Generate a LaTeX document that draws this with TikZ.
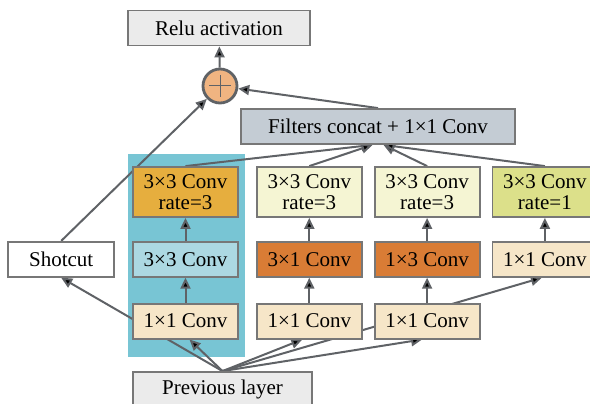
\documentclass[tikz,border=0pt]{standalone}
\usepackage{fontspec}
\setmainfont{Liberation Serif}
\usetikzlibrary{positioning,arrows.meta}
\pgfdeclarelayer{back}
\pgfsetlayers{back,main}
\definecolor{linegray}{HTML}{5F6266}
\definecolor{bordergray}{HTML}{777777}
\definecolor{lightgray}{HTML}{EBEBEB}
\definecolor{concatgray}{HTML}{C4CCD4}
\definecolor{tealbg}{HTML}{78C5D4}
\definecolor{gold}{HTML}{E6AE3E}
\definecolor{paleblue}{HTML}{ACD8E2}
\definecolor{peach}{HTML}{F6E6C8}
\definecolor{cream}{HTML}{F5F5D3}
\definecolor{lime}{HTML}{DCE08A}
\definecolor{rust}{HTML}{D97C35}
\definecolor{sumfill}{HTML}{F0B481}

\begin{document}
\begin{tikzpicture}[
        x=1pt, y=-1pt,
        >={Triangle[length=11pt,width=10pt]},
        node distance=23pt and 11pt,
        font=\fontsize{21}{21}\selectfont,
        box/.style={draw=bordergray, line width=1.8pt, minimum width=105pt,
                    minimum height=35pt, inner sep=0pt},
        tall/.style={box, minimum height=50pt, align=center},
        sum/.style={circle, draw=linegray, line width=2.8pt, fill=sumfill,
                    minimum size=34pt, inner sep=0pt,
                    path picture={\draw[linegray, line width=1pt]
                        (path picture bounding box.center) +(-11pt,0) -- +(11pt,0)
                        (path picture bounding box.center) +(0,-11pt) -- +(0,11pt);}},
        conn/.style={->, draw=linegray, line width=2pt}
        ]
        \useasboundingbox (0,0) rectangle (590,404);

        \begin{pgfonlayer}{back}
            \fill[tealbg] (128,154) rectangle (245,357);
        \end{pgfonlayer}

        \node[box, fill=lightgray, minimum width=182pt] (relu) at (219,28) {Relu activation};
        \node[sum] (add) at (220,86) {};
        \node[box, fill=concatgray, minimum width=274pt] (concat) at (378,126.5) {Filters concat + 1×1 Conv};

        % branches
        \node[tall, fill=gold] (t1) at (185.5,192) {3×3 Conv\\rate=3};
        \node[tall, fill=cream] (t2) [right=17pt of t1] {3×3 Conv\\rate=3};
        \node[tall, fill=cream] (t3) [right=of t2] {3×3 Conv\\rate=3};
        \node[tall, fill=lime] (t4) [right=of t3] {3×3 Conv\\rate=1};

        \node[box, fill=paleblue] (m1) [below=of t1] {3×3 Conv};
        \node[box, fill=rust] (m2) [below=of t2] {3×1 Conv};
        \node[box, fill=rust] (m3) [below=of t3] {1×3 Conv};
        \node[box, fill=peach] (m4) [below=of t4] {1×1 Conv};

        \node[box, fill=peach] (b1) [below=25pt of m1] {1×1 Conv};
        \node[box, fill=peach] (b2) [below=25pt of m2] {1×1 Conv};
        \node[box, fill=peach] (b3) [below=25pt of m3] {1×1 Conv};

        \node[box, fill=white, minimum width=106pt] (shotcut) [left=17pt of m1] {Shotcut};
        \node[box, fill=lightgray, minimum width=179pt] (prev) at (222.5,389.5) {Previous layer};

        \coordinate (inL) at ([xshift=-5.5pt]concat.south);
        \coordinate (inR) at ([xshift=5.5pt]concat.south);

        \begin{pgfonlayer}{back}
            \path[conn]
                (prev.north) edge (shotcut.south)
                (prev.north) edge ([xshift=4pt]b1.south)
                (prev.north) edge ([xshift=-7pt]b2.south)
                (prev.north) edge ([xshift=-5pt]b3.south)
                (prev.north) edge ([xshift=-3pt]m4.south)

                (b1) edge (m1)
                (m1) edge (t1)
                (b2) edge (m2)
                (m2) edge (t2)
                (b3) edge (m3)
                (m3) edge (t3)
                (m4) edge (t4)

                (t1.north) edge (inL)
                (t2.north) edge (inL)
                (t3.north) edge (inR)
                (t4.north) edge (inR)

                (concat.north) edge (add)
                (shotcut.north) edge (add)
                (add) edge (relu);
        \end{pgfonlayer}
\end{tikzpicture}
\end{document}
